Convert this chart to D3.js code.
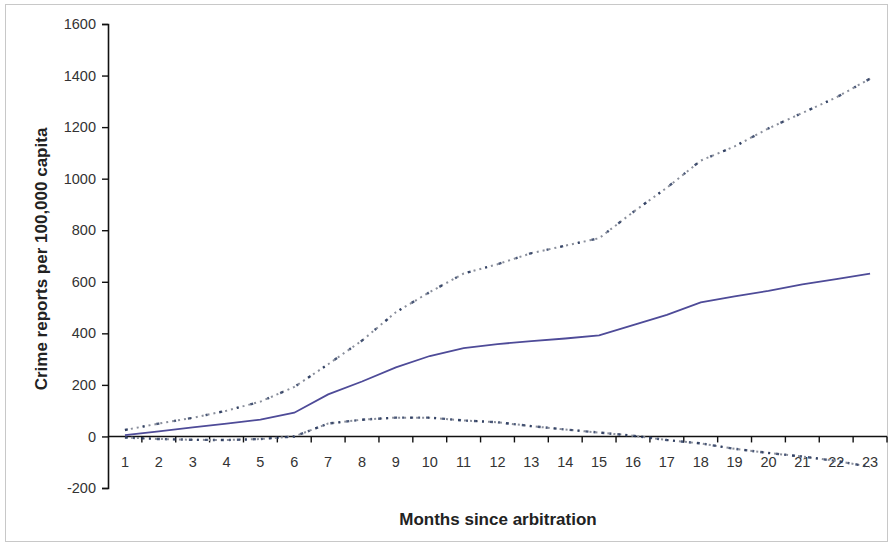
<!DOCTYPE html>
<html>
<head>
<meta charset="utf-8">
<script src="https://cdn.jsdelivr.net/npm/d3@7"></script>
<style>
  html, body { margin: 0; padding: 0; background: #fff; }
  svg { display: block; font-family: "Liberation Sans", Arial, sans-serif; }
</style>
</head>
<body>
<svg id="chart" width="893" height="544"></svg>
<script>
// Months after arbitration
const months = d3.range(1, 24);
// Cumulative crime reports per 100,000 capita
const estimate = [5, 20, 35, 50, 65, 92, 163, 213, 268, 312, 343, 358, 370, 380, 392, 432, 472, 520, 543, 565, 590, 610, 632];
const upperBound = [25, 50, 72, 100, 135, 192, 280, 372, 482, 560, 632, 668, 711, 740, 769, 870, 965, 1070, 1125, 1195, 1255, 1315, 1388];
const lowerBound = [-4, -10, -13, -14, -10, 0, 50, 65, 73, 73, 62, 55, 40, 27, 15, 3, -14, -27, -48, -64, -78, -95, -118];
const yTicks = [-200, 0, 200, 400, 600, 800, 1000, 1200, 1400, 1600];

const svg = d3.select("#chart");

// outer frame
svg.append("rect")
  .attr("x", 5.5).attr("y", 4.5)
  .attr("width", 882).attr("height", 537)
  .attr("fill", "#fff").attr("stroke", "#c8c8c8").attr("stroke-width", 1);

const left = 108, right = 887;
const x = d3.scaleBand().domain(months).range([left, right]);
const y = d3.scaleLinear().domain([-200, 1600]).range([488, 24]);

// y axis (plain hyphen for negatives)
const yAxis = svg.append("g")
  .attr("transform", `translate(${left},0)`)
  .call(d3.axisLeft(y).tickValues(yTicks).tickSize(6).tickPadding(6).tickFormat(d => String(d)));
yAxis.select(".domain").attr("stroke", "#111").attr("stroke-width", 1.6);
yAxis.selectAll(".tick line").attr("stroke", "#111").attr("stroke-width", 1.4);
yAxis.selectAll(".tick text").attr("font-size", 14.5).attr("fill", "#333")
  .attr("font-family", "Liberation Sans, Arial, sans-serif");

// x axis along the zero line, ticks between months
const xAxisG = svg.append("g").attr("transform", `translate(0,${y(0)})`);
xAxisG.append("line")
  .attr("x1", left).attr("x2", right)
  .attr("stroke", "#111").attr("stroke-width", 1.6);
const boundaries = months.map(m => x(m) + x.bandwidth());
xAxisG.selectAll("line.tick").data(boundaries).join("line")
  .attr("class", "tick")
  .attr("x1", d => d).attr("x2", d => d)
  .attr("y1", 0).attr("y2", 6)
  .attr("stroke", "#111").attr("stroke-width", 1.4);
xAxisG.selectAll("text").data(months).join("text")
  .attr("x", d => x(d) + x.bandwidth() / 2)
  .attr("y", 31)
  .attr("text-anchor", "middle")
  .attr("font-size", 14.5).attr("fill", "#333")
  .text(d => d);

// axis titles
svg.append("text")
  .attr("transform", "translate(47,259) rotate(-90)")
  .attr("text-anchor", "middle")
  .attr("font-size", 17).attr("font-weight", "bold").attr("fill", "#222")
  .text("Crime reports per 100,000 capita");
svg.append("text")
  .attr("x", 498).attr("y", 525)
  .attr("text-anchor", "middle")
  .attr("font-size", 17).attr("font-weight", "bold").attr("fill", "#222")
  .text("Months since arbitration");

const line = d3.line()
  .x((d, i) => x(months[i]) + x.bandwidth() / 2)
  .y(d => y(d));

// confidence bounds (dotted)
[upperBound, lowerBound].forEach((series, k) => {
  svg.append("path").datum(series)
    .attr("d", line)
    .attr("fill", "none")
    .attr("stroke", "#8a8f9c")
    .attr("stroke-width", 2)
    .attr("stroke-dasharray", "2,4");
  svg.append("path").datum(series)
    .attr("d", line)
    .attr("fill", "none")
    .attr("stroke", "#1c2d55")
    .attr("stroke-width", 2.4)
    .attr("stroke-dasharray", k === 0 ? "3,15,2,12" : "3,5,2,6")
    .attr("opacity", 0.8);
});

// point estimate (solid)
svg.append("path").datum(estimate)
  .attr("d", line)
  .attr("fill", "none")
  .attr("stroke", "#4e4b98")
  .attr("stroke-width", 1.8);
</script>
</body>
</html>
